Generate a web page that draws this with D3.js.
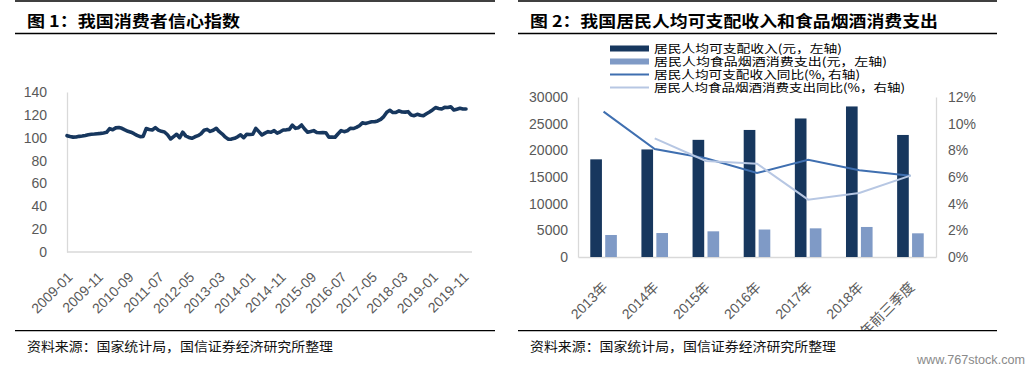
<!DOCTYPE html>
<html><head><meta charset="utf-8">
<script src="https://cdn.jsdelivr.net/npm/d3@7"></script>
<style>body{margin:0;background:#fff;} svg{display:block;background:#fff;}</style>
</head><body>
<svg id="c" width="1034" height="377"></svg>
<script>
// ---------- Chart 1 data: consumer confidence index (monthly, 2009-01 .. 2019-12)
const confidence = [
 101.8,101.0,100.5,100.6,101.2,101.5,102.0,102.6,103.0,103.2,103.5,103.8,
 104.2,104.7,108.0,107.0,108.6,109.0,108.2,106.8,105.6,104.8,103.5,102.0,
 100.9,101.2,108.0,107.2,106.8,108.8,106.6,105.6,105.0,102.6,98.9,101.0,
 103.0,100.0,104.8,101.5,100.2,99.5,100.8,101.8,103.5,106.5,107.3,105.5,
 106.5,108.2,105.3,103.2,100.5,98.6,98.8,99.5,100.8,102.5,100.0,103.0,
 102.8,103.0,108.2,105.3,102.4,104.0,105.3,104.8,106.2,104.0,105.2,106.8,
 106.9,107.3,111.0,108.2,108.8,111.1,107.6,104.8,105.4,106.2,104.5,104.4,
 104.5,104.4,100.5,100.6,100.4,103.5,106.2,105.3,106.0,108.2,108.0,109.0,
 110.5,113.0,112.4,113.2,114.0,114.0,114.7,116.0,118.5,122.3,124.0,122.0,
 122.2,123.5,122.5,122.4,122.8,119.9,119.3,120.5,119.7,119.3,121.0,122.5,
 124.3,126.4,125.6,125.1,126.6,126.4,127.1,124.3,125.0,125.7,125.1,125.1
];
const confTickLabels = ["2009-01","2009-11","2010-09","2011-07","2012-05","2013-03","2014-01",
  "2014-11","2015-09","2016-07","2017-05","2018-03","2019-01","2019-11"];
const confYTicks = [0,20,40,60,80,100,120,140];

// ---------- Chart 2 data
const years = ["2013年","2014年","2015年","2016年","2017年","2018年","2019年前三季度"];
const income = [18311,20167,21966,23821,25974,28228,22882];
const foodSpend = [4127,4494,4814,5151,5374,5631,4441];
const incomeYoY = [10.9,8.1,7.4,6.3,7.3,6.5,6.1];
const foodYoY = [null,8.9,7.2,7.0,4.3,4.8,6.1];
const leftTicks = [0,5000,10000,15000,20000,25000,30000];
const rightTicks = [0,2,4,6,8,10,12];
const legendLabels = ["居民人均可支配收入(元，左轴)","居民人均食品烟酒消费支出(元，左轴)",
  "居民人均可支配收入同比(%, 右轴)","居民人均食品烟酒消费支出同比(%，右轴)"];

const title1 = "图 1：我国消费者信心指数";
const title2 = "图 2：我国居民人均可支配收入和食品烟酒消费支出";
const source = "资料来源：国家统计局，国信证券经济研究所整理";

// month categories
const months = [];
for (let y = 2009; y <= 2019; y++) for (let m = 1; m <= 12; m++) months.push(y + "-" + String(m).padStart(2,"0"));

const svg = d3.select("#c");
const NUMFONT = "'Liberation Sans', Arial, 'Noto Sans CJK SC', sans-serif";
const CJK = "'Noto Sans CJK SC', sans-serif";
const AXC = "#595959";

// ---------- rules and titles
function rule(x1,x2,y){ svg.append("line").attr("x1",x1).attr("x2",x2).attr("y1",y).attr("y2",y)
  .attr("stroke","#000").attr("stroke-width",1.3); }
rule(15,495,1); rule(15,495,33.5); rule(15,495,330.7);
rule(518,997,1); rule(518,997,33.5); rule(518,997,330.7);

svg.append("text").attr("x",27).attr("y",27).text(title1)
  .attr("font-family",CJK).attr("font-weight",700).attr("font-size",15.5)
  .attr("textLength",213).attr("lengthAdjust","spacingAndGlyphs");
svg.append("text").attr("x",530).attr("y",27).text(title2)
  .attr("font-family",CJK).attr("font-weight",700).attr("font-size",15.5)
  .attr("textLength",408).attr("lengthAdjust","spacingAndGlyphs");
[27,530].forEach(x => svg.append("text").attr("x",x).attr("y",351).text(source)
  .attr("font-family",CJK).attr("font-size",13).attr("fill","#111")
  .attr("textLength",306).attr("lengthAdjust","spacingAndGlyphs"));
svg.append("text").attr("x",917).attr("y",364).text("www.767stock.com")
  .attr("font-family","'Liberation Sans Narrow', 'Liberation Sans', sans-serif").attr("font-size",13).attr("fill","#8a8a8a")
  .attr("textLength",108).attr("lengthAdjust","spacingAndGlyphs");

// ---------- Chart 1
const x1 = d3.scalePoint().domain(months).range([67,466]);
const y1 = d3.scaleLinear().domain([0,140]).range([252,92]);
const g1 = svg.append("g");

const ya1 = g1.append("g").attr("transform","translate(67,0)")
  .call(d3.axisLeft(y1).tickValues(confYTicks).tickSize(0).tickSizeOuter(0).tickPadding(20));
ya1.select(".domain").attr("stroke","#d9d9d9").attr("stroke-width",1.3);
ya1.selectAll("text").attr("font-family",NUMFONT).attr("font-size",14).attr("fill",AXC);

const xa1 = g1.append("g").attr("transform","translate(0,252)")
  .call(d3.axisBottom(x1).tickValues(confTickLabels).tickSize(0).tickSizeOuter(0));
xa1.select(".domain").remove();
xa1.selectAll("text").attr("font-family",NUMFONT).attr("font-size",14).attr("fill",AXC)
  .attr("text-anchor","end").attr("x",0).attr("y",0).attr("dy",0)
  .attr("transform","translate(6,26) rotate(-45)");
g1.append("line").attr("x1",x1.range()[0]).attr("x2",x1.range()[1]+6).attr("y1",252).attr("y2",252)
  .attr("stroke","#d9d9d9").attr("stroke-width",1.3);

g1.append("path").datum(confidence)
  .attr("d", d3.line().x((d,i)=>x1(months[i])).y(d=>y1(d)))
  .attr("fill","none").attr("stroke","#17375e").attr("stroke-width",3.6)
  .attr("stroke-linejoin","round").attr("stroke-linecap","round");

// ---------- Chart 2
const x2 = d3.scaleBand().domain(years).range([578,936]).paddingInner(0.48).paddingOuter(0.24);
const sub = d3.scaleBand().domain(["income","food"]).range([0,x2.bandwidth()]).paddingInner(0.22);
const yL = d3.scaleLinear().domain([0,30000]).range([257,97]);
const yR = d3.scaleLinear().domain([0,12]).range([257,97]);
const g2 = svg.append("g");
svg.append("defs").append("clipPath").attr("id","clip2").append("rect")
  .attr("x",518).attr("y",0).attr("width",516).attr("height",330);

const yaL = g2.append("g").attr("transform","translate(578,0)")
  .call(d3.axisLeft(yL).tickValues(leftTicks).tickSize(0).tickSizeOuter(0).tickPadding(10).tickFormat(d3.format("d")));
yaL.select(".domain").attr("stroke","#d9d9d9").attr("stroke-width",1.3);
yaL.selectAll("text").attr("font-family",NUMFONT).attr("font-size",14).attr("fill",AXC);

const yaR = g2.append("g").attr("transform","translate(936,0)")
  .call(d3.axisRight(yR).tickValues(rightTicks).tickSize(0).tickSizeOuter(0).tickPadding(12).tickFormat(d=>d+"%"));
yaR.select(".domain").attr("stroke","#d9d9d9").attr("stroke-width",1.3);
yaR.selectAll("text").attr("font-family",NUMFONT).attr("font-size",14).attr("fill",AXC);

const xwrap = g2.append("g").attr("clip-path","url(#clip2)");
const xa2 = xwrap.append("g").attr("transform","translate(0,257)")
  .call(d3.axisBottom(x2).tickSize(0).tickSizeOuter(0));
xa2.select(".domain").attr("stroke","#d9d9d9").attr("stroke-width",1.3);
xa2.selectAll("text").attr("font-family",NUMFONT).attr("font-size",14).attr("fill",AXC)
  .attr("text-anchor","end").attr("x",0).attr("y",0).attr("dy",0)
  .attr("transform","translate(5,31) rotate(-45)");

const grp = g2.selectAll("g.bar").data(years).join("g").attr("class","bar")
  .attr("transform",d=>`translate(${x2(d)},0)`);
grp.append("rect").attr("x",sub("income")).attr("width",sub.bandwidth())
  .attr("y",(d,i)=>yL(income[i])).attr("height",(d,i)=>yL(0)-yL(income[i])).attr("fill","#17375e");
grp.append("rect").attr("x",sub("food")).attr("width",sub.bandwidth())
  .attr("y",(d,i)=>yL(foodSpend[i])).attr("height",(d,i)=>yL(0)-yL(foodSpend[i])).attr("fill","#7f9ac6");

const cx = d => x2(d) + x2.bandwidth()/2;
g2.append("path").datum(years.map((d,i)=>[d,incomeYoY[i]]))
  .attr("d", d3.line().x(d=>cx(d[0])).y(d=>yR(d[1])))
  .attr("fill","none").attr("stroke","#3f6fb0").attr("stroke-width",2);
g2.append("path").datum(years.map((d,i)=>[d,foodYoY[i]]))
  .attr("d", d3.line().defined(d=>d[1]!=null).x(d=>cx(d[0])).y(d=>yR(d[1])))
  .attr("fill","none").attr("stroke","#b7c7e3").attr("stroke-width",2);

// legend
const legW = [188,233,206,251];
const legY = [48.5,61.5,74.5,87.5];
const lg = g2.append("g");
legendLabels.forEach((t,i)=>{
  if (i===0) lg.append("rect").attr("x",610).attr("y",legY[i]-3).attr("width",39).attr("height",6).attr("fill","#17375e");
  if (i===1) lg.append("rect").attr("x",610).attr("y",legY[i]-3).attr("width",39).attr("height",6).attr("fill","#7f9ac6");
  if (i===2) lg.append("line").attr("x1",610).attr("x2",649).attr("y1",legY[i]).attr("y2",legY[i]).attr("stroke","#3f6fb0").attr("stroke-width",2);
  if (i===3) lg.append("line").attr("x1",610).attr("x2",649).attr("y1",legY[i]).attr("y2",legY[i]).attr("stroke","#b7c7e3").attr("stroke-width",2);
  lg.append("text").attr("x",654).attr("y",legY[i]+4).text(t)
    .attr("font-family",CJK).attr("font-size",11.5).attr("fill","#000")
    .attr("textLength",legW[i]).attr("lengthAdjust","spacingAndGlyphs");
});
</script>
</body></html>
